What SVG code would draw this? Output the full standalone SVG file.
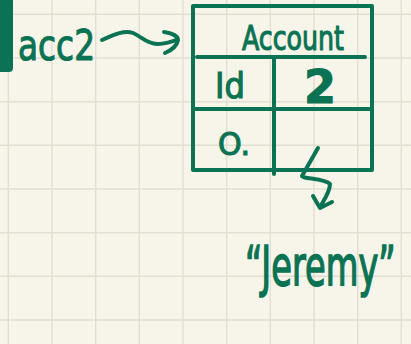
<svg xmlns="http://www.w3.org/2000/svg" width="411" height="344" viewBox="0 0 411 344">
<defs>
<style>
.grid{stroke:#e1ded2;stroke-width:1.4;fill:none}
.ink{stroke:#0b7353;stroke-width:4;fill:none;stroke-linecap:round;stroke-linejoin:round}
.t{fill:#0b7353;stroke:#0b7353;stroke-width:1.2;font-family:"DejaVu Sans","Liberation Sans",sans-serif}
</style>
</defs>
<rect width="411" height="344" fill="#f7f5ea"/>
<g id="grid" class="grid">
<path d="M8.3 0V344M52 0V344M95.7 0V344M139.3 0V344M183 0V344M226.7 0V344M270.3 0V344M314 0V344M357.7 0V344M401.3 0V344"/>
<path d="M0 14.3H411M0 58H411M0 101.7H411M0 145.3H411M0 189H411M0 232.7H411M0 276.3H411M0 320H411"/>
</g>
<rect x="-6" y="-6" width="19" height="78" rx="4" fill="#0b7353"/>
<g id="acc2">
<text class="t" x="18" y="60" font-size="42" textLength="77" lengthAdjust="spacingAndGlyphs">acc2</text>
</g>
<g id="account">
<path class="ink" d="M193 6H372V170H193Z"/>
<path class="ink" d="M197 57H365M274 57V174M195 109H372"/>
<text class="t" x="242" y="50" font-size="34" textLength="102" lengthAdjust="spacingAndGlyphs">Account</text>
<text class="t" x="215" y="98" font-size="36" textLength="30" lengthAdjust="spacingAndGlyphs">Id</text>
<text class="t" x="320" y="103" font-size="46" font-weight="bold" text-anchor="middle">2</text>
<text class="t" x="218" y="155" font-size="32" textLength="32" lengthAdjust="spacingAndGlyphs">O.</text>
</g>
<g id="jeremy">
<text class="t" transform="translate(245,285) scale(0.84,1.4)" x="0" y="0" font-size="40">“Jeremy”</text>
</g>
<g id="connectors" class="ink">
<path d="M102 40C115 34 125 30 133 33C142 37 147 44 157 44C166 44 172 41 177 40"/>
<path d="M164 32C172 33 178 36 178 40C177 45 172 50 165 53"/>
<path d="M318 148L302 176C302 179 325 178 330 184C330 192 324 200 320 207"/>
<path d="M313 196L320 208L332 202"/>
</g>
</svg>
